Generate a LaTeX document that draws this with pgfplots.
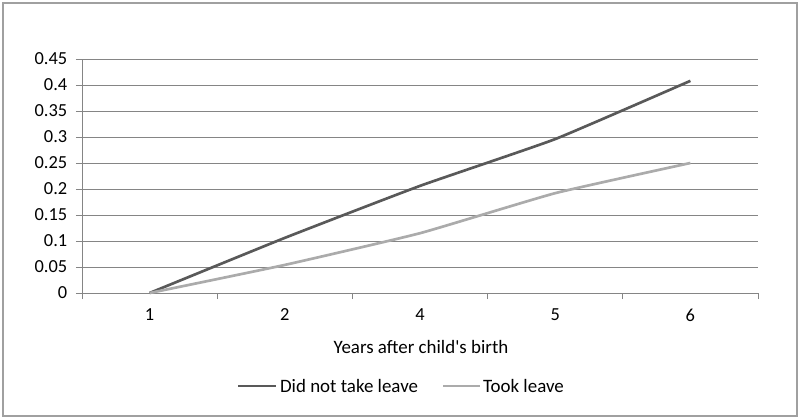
\documentclass[border=0pt]{standalone}
\usepackage{pgfplots}
\pgfplotsset{compat=1.18}
\usepackage{fontspec}
\setmainfont{Carlito}
\definecolor{darkline}{HTML}{595959}
\definecolor{lightline}{HTML}{ABABAB}
\definecolor{gridgray}{HTML}{858585}
\definecolor{framegray}{HTML}{A0A0A0}

\begin{document}
\begin{tikzpicture}[x=0.75pt,y=0.75pt]
% whole chart area, measured in pixels of the 800x419 reference, origin at plot's lower left
\useasboundingbox (-82,-126) rectangle (718,293);
\draw[framegray, line width=0.9pt] (-79,-123) rectangle (715,290);
\begin{axis}[
  at={(0,0)}, anchor=south west,
  scale only axis,
  width=507pt, height=175.5pt,
  xmin=-0.5, xmax=4.5,
  ymin=0, ymax=0.45,
  xtick={0,1,2,3,4},
  xticklabels={1,2,4,5,6},
  major x tick style={draw=none},
  minor xtick={-0.5,0.5,1.5,2.5,3.5,4.5},
  minor x tick style={gridgray, line width=0.6pt},
  ytick={0,0.05,...,0.45},
  yticklabel style={/pgf/number format/fixed, /pgf/number format/precision=2},
  /pgf/number format/assume math mode=true,
  tick align=outside,
  major tick length=4.5pt,
  minor tick length=4.5pt,
  axis x line*=bottom,
  axis y line*=left,
  axis line style={gridgray, line width=0.6pt, -},
  ytick style={gridgray, line width=0.6pt},
  ymajorgrids,
  grid style={gridgray, line width=0.6pt},
  tick label style={font=\fontsize{13.8}{15}\selectfont, black},
  xticklabel style={yshift=-4pt},
  yticklabel style={xshift=-3pt},
  clip=false,
]
\addplot[darkline, line width=2pt, smooth, tension=0.25] coordinates {
  (0,0) (1,0.106) (2,0.206) (3,0.296) (4,0.408)
};
\addplot[lightline, line width=2pt, smooth, tension=0.25] coordinates {
  (0,0) (1,0.054) (2,0.115) (3,0.192) (4,0.250)
};
\end{axis}
% axis title and legend
\node[anchor=base, font=\fontsize{14.2}{16}\selectfont] at (339,-60) {Years after child\textquotesingle s birth};
\draw[darkline, line width=2.2pt] (156,-93) -- (194,-93);
\node[anchor=west, font=\fontsize{14.2}{16}\selectfont, inner sep=1pt] at (196.5,-93) {Did not take leave};
\draw[lightline, line width=2.2pt] (361,-93) -- (398,-93);
\node[anchor=west, font=\fontsize{14.2}{16}\selectfont, inner sep=1pt] at (399.5,-93) {Took leave};
\end{tikzpicture}
\end{document}
